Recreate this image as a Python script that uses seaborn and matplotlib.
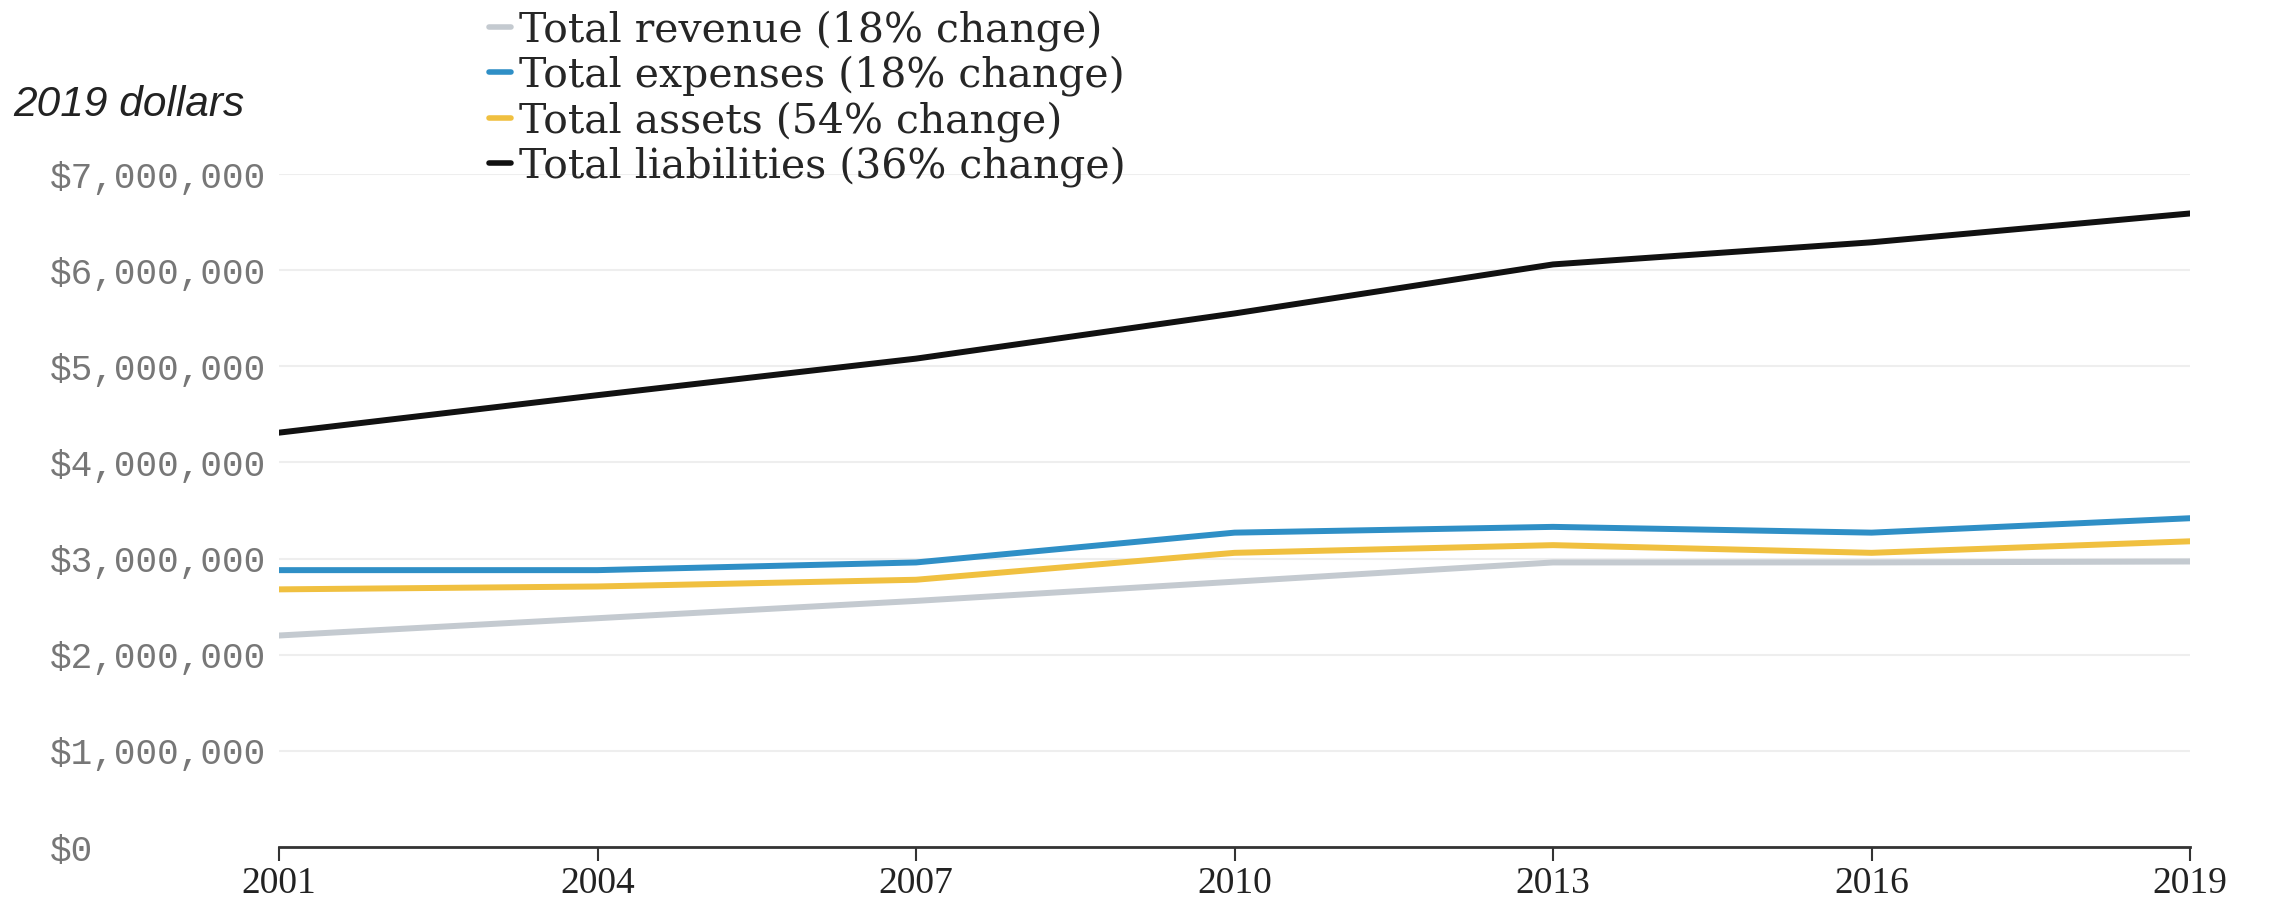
import matplotlib
matplotlib.use("Agg")
import matplotlib.pyplot as plt
import seaborn as sns
import pandas as pd
from matplotlib.ticker import FuncFormatter
from matplotlib.lines import Line2D

years = [2001, 2004, 2007, 2010, 2013, 2016, 2019]
revenue = [2200000, 2380000, 2560000, 2760000, 2960000, 2960000, 2970000]
expenses = [2880000, 2880000, 2960000, 3270000, 3330000, 3270000, 3420000]
assets = [2680000, 2710000, 2780000, 3060000, 3140000, 3060000, 3180000]
liabilities = [4310000, 4700000, 5080000, 5550000, 6060000, 6290000, 6590000]
series_names = ["Total revenue (18% change)", "Total expenses (18% change)",
                "Total assets (54% change)", "Total liabilities (36% change)"]
colors = ["#c4cad0", "#2f8fc6", "#f0c040", "#111111"]
yticks = [0, 1000000, 2000000, 3000000, 4000000, 5000000, 6000000, 7000000]

df = pd.concat([
    pd.DataFrame({"year": years, "value": v, "series": n})
    for v, n in zip([revenue, expenses, assets, liabilities], series_names)
])

sns.set_theme(style="white")
plt.rcParams["font.family"] = ["Liberation Mono", "DejaVu Sans"]

fig = plt.figure(figsize=(22.7, 9.06), dpi=100)
ax = fig.add_axes([0.1229, 0.0651, 0.8419, 0.7428])
sns.lineplot(data=df, x="year", y="value", hue="series", palette=colors,
             hue_order=series_names, linewidth=4.3, ax=ax, legend=False)

ax.set_xlim(2001, 2019)
ax.set_ylim(0, 7000000)
ax.set_xticks(years)
ax.set_xticklabels([str(y) for y in years], fontsize=27, color="#222222",
                   family=["Liberation Serif"])
ax.set_yticks(yticks)
ax.yaxis.set_major_formatter(FuncFormatter(lambda v, p: "${:,.0f}".format(v)))
for lab in ax.get_yticklabels():
    lab.set_fontsize(26)
    lab.set_color("#777777")
    lab.set_horizontalalignment("left")
ax.tick_params(axis="y", length=0, pad=165)
ax.tick_params(axis="x", length=10, width=1.5, color="#333333", direction="out", pad=4,
               bottom=True)
ax.grid(axis="y", color="#eeeeee", linewidth=1.5)
ax.grid(axis="x", visible=False)
for s in ["top", "right", "left"]:
    ax.spines[s].set_visible(False)
ax.spines["bottom"].set_color("#333333")
ax.spines["bottom"].set_linewidth(2)
ax.set_xlabel("")
ax.set_ylabel("")

handles = [Line2D([0], [0], color=c, linewidth=4) for c in colors]
fig.legend(handles, series_names, loc="upper left", bbox_to_anchor=(0.208, 1.007),
           frameon=False, handlelength=0.55, handletextpad=0.2,
           labelspacing=0.11, borderaxespad=0,
           prop={"family": ["DejaVu Serif"], "size": 29.5})

fig.text(0.006, 0.872, "2019 dollars", fontsize=30.5, style="italic",
         family=["Liberation Sans"], color="#222222")

fig.savefig("out.png", dpi=100)
